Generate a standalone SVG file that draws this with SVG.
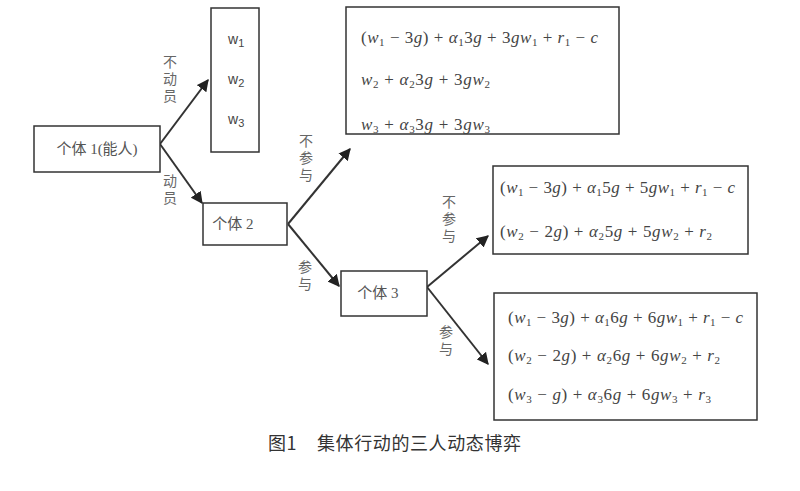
<svg xmlns="http://www.w3.org/2000/svg" width="800" height="491" viewBox="0 0 800 491">
<defs>
<style>
.box{fill:#fff;stroke:#333;stroke-width:1.5}
.cn{font-family:"Liberation Serif","Noto Sans CJK SC",serif;font-size:15px;fill:#555}
.lb{font-family:"Liberation Serif","Noto Sans CJK SC",serif;font-size:14px;fill:#666}
.m{font-family:"Liberation Serif","DejaVu Serif",serif;font-size:17px;fill:#444}
.i{font-style:italic}
.s{font-size:11px}
.w{font-family:"Liberation Sans",sans-serif;font-size:14px;fill:#444}
.cap{font-family:"Noto Sans CJK SC",sans-serif;font-size:18px;fill:#333;letter-spacing:0.6px}
.ln{stroke:#333;stroke-width:2;fill:none;marker-end:url(#ah)}
</style>
<marker id="ah" viewBox="0 0 10 10" refX="9" refY="5" markerWidth="6" markerHeight="6" orient="auto" markerUnits="strokeWidth">
<path d="M0,0 L10,5 L0,10 z" fill="#222"/>
</marker>
</defs>
<rect width="800" height="491" fill="#fff"/>

<g id="connectors">
<line class="ln" x1="160" y1="144" x2="208" y2="80"/>
<line class="ln" x1="160" y1="144" x2="202" y2="203"/>
<line class="ln" x1="288" y1="224" x2="350" y2="149"/>
<line class="ln" x1="288" y1="224" x2="339" y2="286"/>
<line class="ln" x1="427" y1="287" x2="488" y2="236"/>
<line class="ln" x1="427" y1="287" x2="488" y2="364"/>
<g class="lb">
<text x="170" y="67" text-anchor="middle">不</text>
<text x="170" y="84" text-anchor="middle">动</text>
<text x="170" y="101" text-anchor="middle">员</text>
<text x="170" y="186" text-anchor="middle">动</text>
<text x="170" y="203" text-anchor="middle">员</text>
<text x="306" y="146" text-anchor="middle">不</text>
<text x="306" y="163" text-anchor="middle">参</text>
<text x="306" y="180" text-anchor="middle">与</text>
<text x="305" y="272" text-anchor="middle">参</text>
<text x="305" y="289" text-anchor="middle">与</text>
<text x="449" y="207" text-anchor="middle">不</text>
<text x="449" y="224" text-anchor="middle">参</text>
<text x="449" y="241" text-anchor="middle">与</text>
<text x="446" y="337" text-anchor="middle">参</text>
<text x="446" y="354" text-anchor="middle">与</text>
</g>
</g>

<g id="node-p1">
<rect class="box" x="34" y="126" width="126" height="46"/>
<text class="cn" x="97" y="154" text-anchor="middle">个体 1(能人)</text>
</g>

<g id="node-w">
<rect class="box" x="211" y="8" width="48" height="144"/>
<text class="w" x="228" y="44">w<tspan class="s" dy="3">1</tspan></text>
<text class="w" x="228" y="84">w<tspan class="s" dy="3">2</tspan></text>
<text class="w" x="228" y="124">w<tspan class="s" dy="3">3</tspan></text>
</g>

<g id="node-p2">
<rect class="box" x="203" y="203" width="84" height="42"/>
<text class="cn" x="233" y="229" text-anchor="middle">个体 2</text>
</g>

<g id="node-p3">
<rect class="box" x="341" y="271" width="86" height="45"/>
<text class="cn" x="378" y="298" text-anchor="middle">个体 3</text>
</g>

<g id="node-out1">
<rect class="box" x="346" y="7" width="273" height="127"/>
<text class="m" x="361" y="43" textLength="237" lengthAdjust="spacing">(<tspan class="i">w</tspan><tspan class="s" dy="3">1</tspan><tspan dy="-3"> − 3</tspan><tspan class="i">g</tspan>) + <tspan class="i">α</tspan><tspan class="s" dy="3">1</tspan><tspan dy="-3">3</tspan><tspan class="i">g</tspan> + 3<tspan class="i">gw</tspan><tspan class="s" dy="3">1</tspan><tspan dy="-3"> + </tspan><tspan class="i">r</tspan><tspan class="s" dy="3">1</tspan><tspan dy="-3"> − </tspan><tspan class="i">c</tspan></text>
<text class="m" x="361" y="85" textLength="129" lengthAdjust="spacing"><tspan class="i">w</tspan><tspan class="s" dy="3">2</tspan><tspan dy="-3"> + </tspan><tspan class="i">α</tspan><tspan class="s" dy="3">2</tspan><tspan dy="-3">3</tspan><tspan class="i">g</tspan> + 3<tspan class="i">gw</tspan><tspan class="s" dy="3">2</tspan></text>
<text class="m" x="361" y="130" textLength="129" lengthAdjust="spacing"><tspan class="i">w</tspan><tspan class="s" dy="3">3</tspan><tspan dy="-3"> + </tspan><tspan class="i">α</tspan><tspan class="s" dy="3">3</tspan><tspan dy="-3">3</tspan><tspan class="i">g</tspan> + 3<tspan class="i">gw</tspan><tspan class="s" dy="3">3</tspan></text>
</g>

<g id="node-out2">
<rect class="box" x="493" y="166" width="255" height="88"/>
<text class="m" x="500" y="193" textLength="235" lengthAdjust="spacing">(<tspan class="i">w</tspan><tspan class="s" dy="3">1</tspan><tspan dy="-3"> − 3</tspan><tspan class="i">g</tspan>) + <tspan class="i">α</tspan><tspan class="s" dy="3">1</tspan><tspan dy="-3">5</tspan><tspan class="i">g</tspan> + 5<tspan class="i">gw</tspan><tspan class="s" dy="3">1</tspan><tspan dy="-3"> + </tspan><tspan class="i">r</tspan><tspan class="s" dy="3">1</tspan><tspan dy="-3"> − </tspan><tspan class="i">c</tspan></text>
<text class="m" x="500" y="237" textLength="212" lengthAdjust="spacing">(<tspan class="i">w</tspan><tspan class="s" dy="3">2</tspan><tspan dy="-3"> − 2</tspan><tspan class="i">g</tspan>) + <tspan class="i">α</tspan><tspan class="s" dy="3">2</tspan><tspan dy="-3">5</tspan><tspan class="i">g</tspan> + 5<tspan class="i">gw</tspan><tspan class="s" dy="3">2</tspan><tspan dy="-3"> + </tspan><tspan class="i">r</tspan><tspan class="s" dy="3">2</tspan></text>
</g>

<g id="node-out3">
<rect class="box" x="494" y="293" width="263" height="127"/>
<text class="m" x="508" y="323" textLength="235" lengthAdjust="spacing">(<tspan class="i">w</tspan><tspan class="s" dy="3">1</tspan><tspan dy="-3"> − 3</tspan><tspan class="i">g</tspan>) + <tspan class="i">α</tspan><tspan class="s" dy="3">1</tspan><tspan dy="-3">6</tspan><tspan class="i">g</tspan> + 6<tspan class="i">gw</tspan><tspan class="s" dy="3">1</tspan><tspan dy="-3"> + </tspan><tspan class="i">r</tspan><tspan class="s" dy="3">1</tspan><tspan dy="-3"> − </tspan><tspan class="i">c</tspan></text>
<text class="m" x="508" y="361" textLength="212" lengthAdjust="spacing">(<tspan class="i">w</tspan><tspan class="s" dy="3">2</tspan><tspan dy="-3"> − 2</tspan><tspan class="i">g</tspan>) + <tspan class="i">α</tspan><tspan class="s" dy="3">2</tspan><tspan dy="-3">6</tspan><tspan class="i">g</tspan> + 6<tspan class="i">gw</tspan><tspan class="s" dy="3">2</tspan><tspan dy="-3"> + </tspan><tspan class="i">r</tspan><tspan class="s" dy="3">2</tspan></text>
<text class="m" x="508" y="400" textLength="203" lengthAdjust="spacing">(<tspan class="i">w</tspan><tspan class="s" dy="3">3</tspan><tspan dy="-3"> − </tspan><tspan class="i">g</tspan>) + <tspan class="i">α</tspan><tspan class="s" dy="3">3</tspan><tspan dy="-3">6</tspan><tspan class="i">g</tspan> + 6<tspan class="i">gw</tspan><tspan class="s" dy="3">3</tspan><tspan dy="-3"> + </tspan><tspan class="i">r</tspan><tspan class="s" dy="3">3</tspan></text>
</g>

<g id="caption" class="cap">
<text x="268" y="450">图1</text>
<text x="317" y="450">集体行动的三人动态博弈</text>
</g>
</svg>
